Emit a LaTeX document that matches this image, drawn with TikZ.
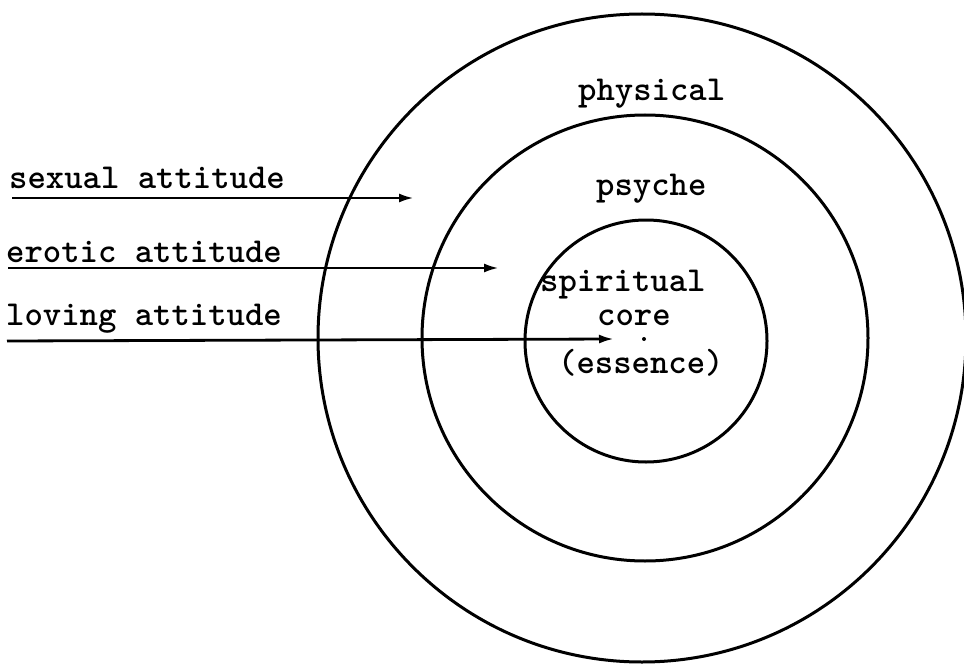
\documentclass[tikz,border=0pt]{standalone}
\usetikzlibrary{arrows.meta}
\begin{document}
\begin{tikzpicture}[x=1pt,y=-1pt,
  ring/.style={draw=black,line width=3pt},
  lbl/.style={anchor=base west,inner sep=0pt,font=\fontsize{35}{40}\selectfont\ttfamily\bfseries},
  attarrow/.style={draw=black,line width=2.8pt,-{Latex[length=15pt,width=9pt]}}]
\useasboundingbox (0,0) rectangle (964,666);
% rings
\draw[ring] (642,338) circle[radius=324pt];
\draw[ring] (645,338) circle[radius=223pt];
\draw[ring] (646,341) circle[radius=121pt];
\fill (644,339) circle[radius=2pt];
% ring labels
\node[lbl] (physical) at (578,101) {physical};
\node[lbl] (psyche) at (596,195) {psyche};
\node[lbl] (spiritual) at (540,291) {spiritual};
\node[lbl] (core) at (597,325) {core};
\node[lbl] (essence) at (558,373) {(essence)};
% attitudes
\node[lbl] (sexual) at (9,188) {sexual attitude};
\node[lbl] (erotic) at (6,262) {erotic attitude};
\node[lbl] (loving) at (6,325) {loving attitude};
\coordinate (s0) at (12,198);
\coordinate (s1) at (414,198);
\coordinate (e0) at (8,268);
\coordinate (e1) at (499,268);
\coordinate (l0) at (7,341);
\coordinate (l1) at (614,339);
\draw[attarrow] (s0) -- (s1);
\draw[attarrow] (e0) -- (e1);
\draw[attarrow] (l0) -- (l1);
\end{tikzpicture}
\end{document}
